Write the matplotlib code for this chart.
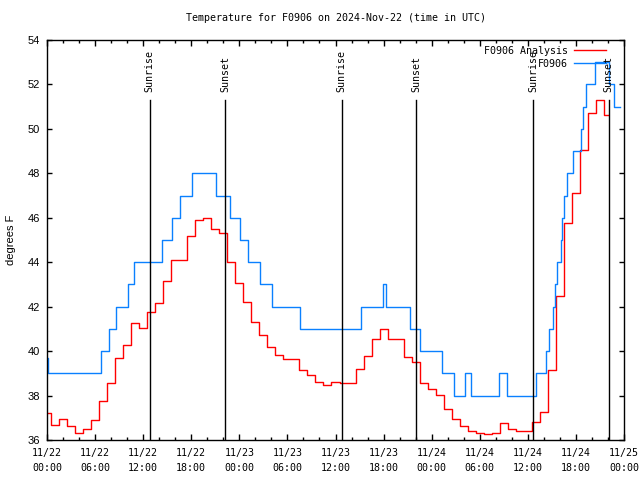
import numpy as np
import matplotlib
matplotlib.use("Agg")
import matplotlib.pyplot as plt
from matplotlib.ticker import MultipleLocator

# hourly analysis values (hours since 11/22 00:00 UTC)
analysis_hours = list(range(0, 71))
analysis_temp = [37.23, 36.66, 36.93, 36.65, 36.30, 36.48, 36.89, 37.74, 38.55, 39.68,
                 40.29, 41.27, 41.03, 41.76, 42.15, 43.14, 44.10, 44.10, 45.20, 45.89,
                 45.98, 45.48, 45.30, 44.00, 43.05, 42.20, 41.33, 40.71, 40.17, 39.83,
                 39.65, 39.65, 39.15, 38.93, 38.61, 38.48, 38.60, 38.55, 38.55, 39.21,
                 39.80, 40.56, 40.98, 40.56, 40.53, 39.72, 39.52, 38.58, 38.28, 38.04,
                 37.38, 36.93, 36.63, 36.42, 36.30, 36.26, 36.30, 36.78, 36.48, 36.40,
                 36.40, 36.83, 37.25, 39.15, 42.48, 45.78, 47.10, 49.07, 50.72, 51.29,
                 50.61]

# station observations (time of each change, value held until next change)
obs_hours = [0.0, 0.1, 6.8, 7.75, 8.55, 10.05, 10.8, 14.3, 15.55, 16.55, 18.05,
             21.05, 22.8, 24.05, 25.05, 26.55, 28.05, 31.55, 39.15, 41.9, 42.3,
             45.3, 46.6, 49.3, 50.8, 52.2, 52.85, 56.35, 57.35, 61.0, 62.3, 62.6,
             63.1, 63.4, 63.7, 64.1, 64.3, 64.5, 64.9, 65.6, 66.6, 66.9, 67.3,
             68.4, 70.1, 70.8, 71.5]
obs_temp = [39.7, 39, 40, 41, 42, 43, 44, 45, 46, 47, 48,
            47, 46, 45, 44, 43, 42, 41, 42, 43, 42,
            41, 40, 39, 38, 39, 38, 39, 38, 39, 40, 41,
            42, 43, 44, 45, 46, 47, 48, 49, 50, 51, 52,
            53, 52, 51, 51]

sunrise_hours = [12.8, 36.75, 60.7]
sunset_hours = [22.25, 46.1, 70.07]

tick_hours = list(range(0, 73, 6))
tick_labels = ["11/22\n00:00", "11/22\n06:00", "11/22\n12:00", "11/22\n18:00",
               "11/23\n00:00", "11/23\n06:00", "11/23\n12:00", "11/23\n18:00",
               "11/24\n00:00", "11/24\n06:00", "11/24\n12:00", "11/24\n18:00",
               "11/25\n00:00"]

mono = "DejaVu Sans Mono"
fs = 7.2

fig = plt.figure(figsize=(6.4, 4.8), dpi=100)
ax = fig.add_axes([47 / 640, 40 / 480, 577 / 640, 400 / 480])

ax.plot(analysis_hours, analysis_temp, drawstyle="steps-mid", color="#ff0000",
        lw=1.0, label="F0906 Analysis")
ax.plot(obs_hours, obs_temp, drawstyle="steps-post", color="#0a80ff",
        lw=1.0, label="F0906")

# sunrise / sunset markers
for h in sunrise_hours:
    ax.plot([h, h], [36, 51.3], color="black", lw=1.0)
    ax.text(h, 51.65, "Sunrise", rotation=90, ha="center", va="bottom",
            family=mono, fontsize=fs)
for h in sunset_hours:
    ax.plot([h, h], [36, 51.3], color="black", lw=1.0)
    ax.text(h, 51.65, "Sunset", rotation=90, ha="center", va="bottom",
            family=mono, fontsize=fs)

ax.set_xlim(0, 72)
ax.set_ylim(36, 54)
ax.set_xticks(tick_hours)
ax.set_xticklabels(tick_labels, family=mono, fontsize=fs, linespacing=1.6)
ax.xaxis.set_minor_locator(MultipleLocator(2))
ax.set_yticks(np.arange(36, 55, 2))
ax.set_yticklabels([str(v) for v in range(36, 55, 2)], family="Liberation Sans", fontsize=8)

ax.tick_params(axis="both", which="both", direction="in", top=True, right=True, width=1)
ax.tick_params(axis="x", which="major", length=4.5, pad=6)
ax.tick_params(axis="x", which="minor", length=2.2)
ax.tick_params(axis="y", which="major", length=3.5, pad=5)
for sp in ax.spines.values():
    sp.set_linewidth(1.0)

ax.set_title("Temperature for F0906 on 2024-Nov-22 (time in UTC)", family=mono,
             fontsize=fs, pad=14)
ax.set_ylabel("degrees F", family="Liberation Sans", fontsize=8, labelpad=8)

ax.legend(loc="upper right", bbox_to_anchor=(1 - 12 / 577, 1.0), frameon=False,
          markerfirst=False, prop={"family": mono, "size": fs}, handlelength=3.2,
          handletextpad=0.6, labelspacing=0.3, borderaxespad=0.4, borderpad=0.2)

fig.savefig("out.png", dpi=100)
